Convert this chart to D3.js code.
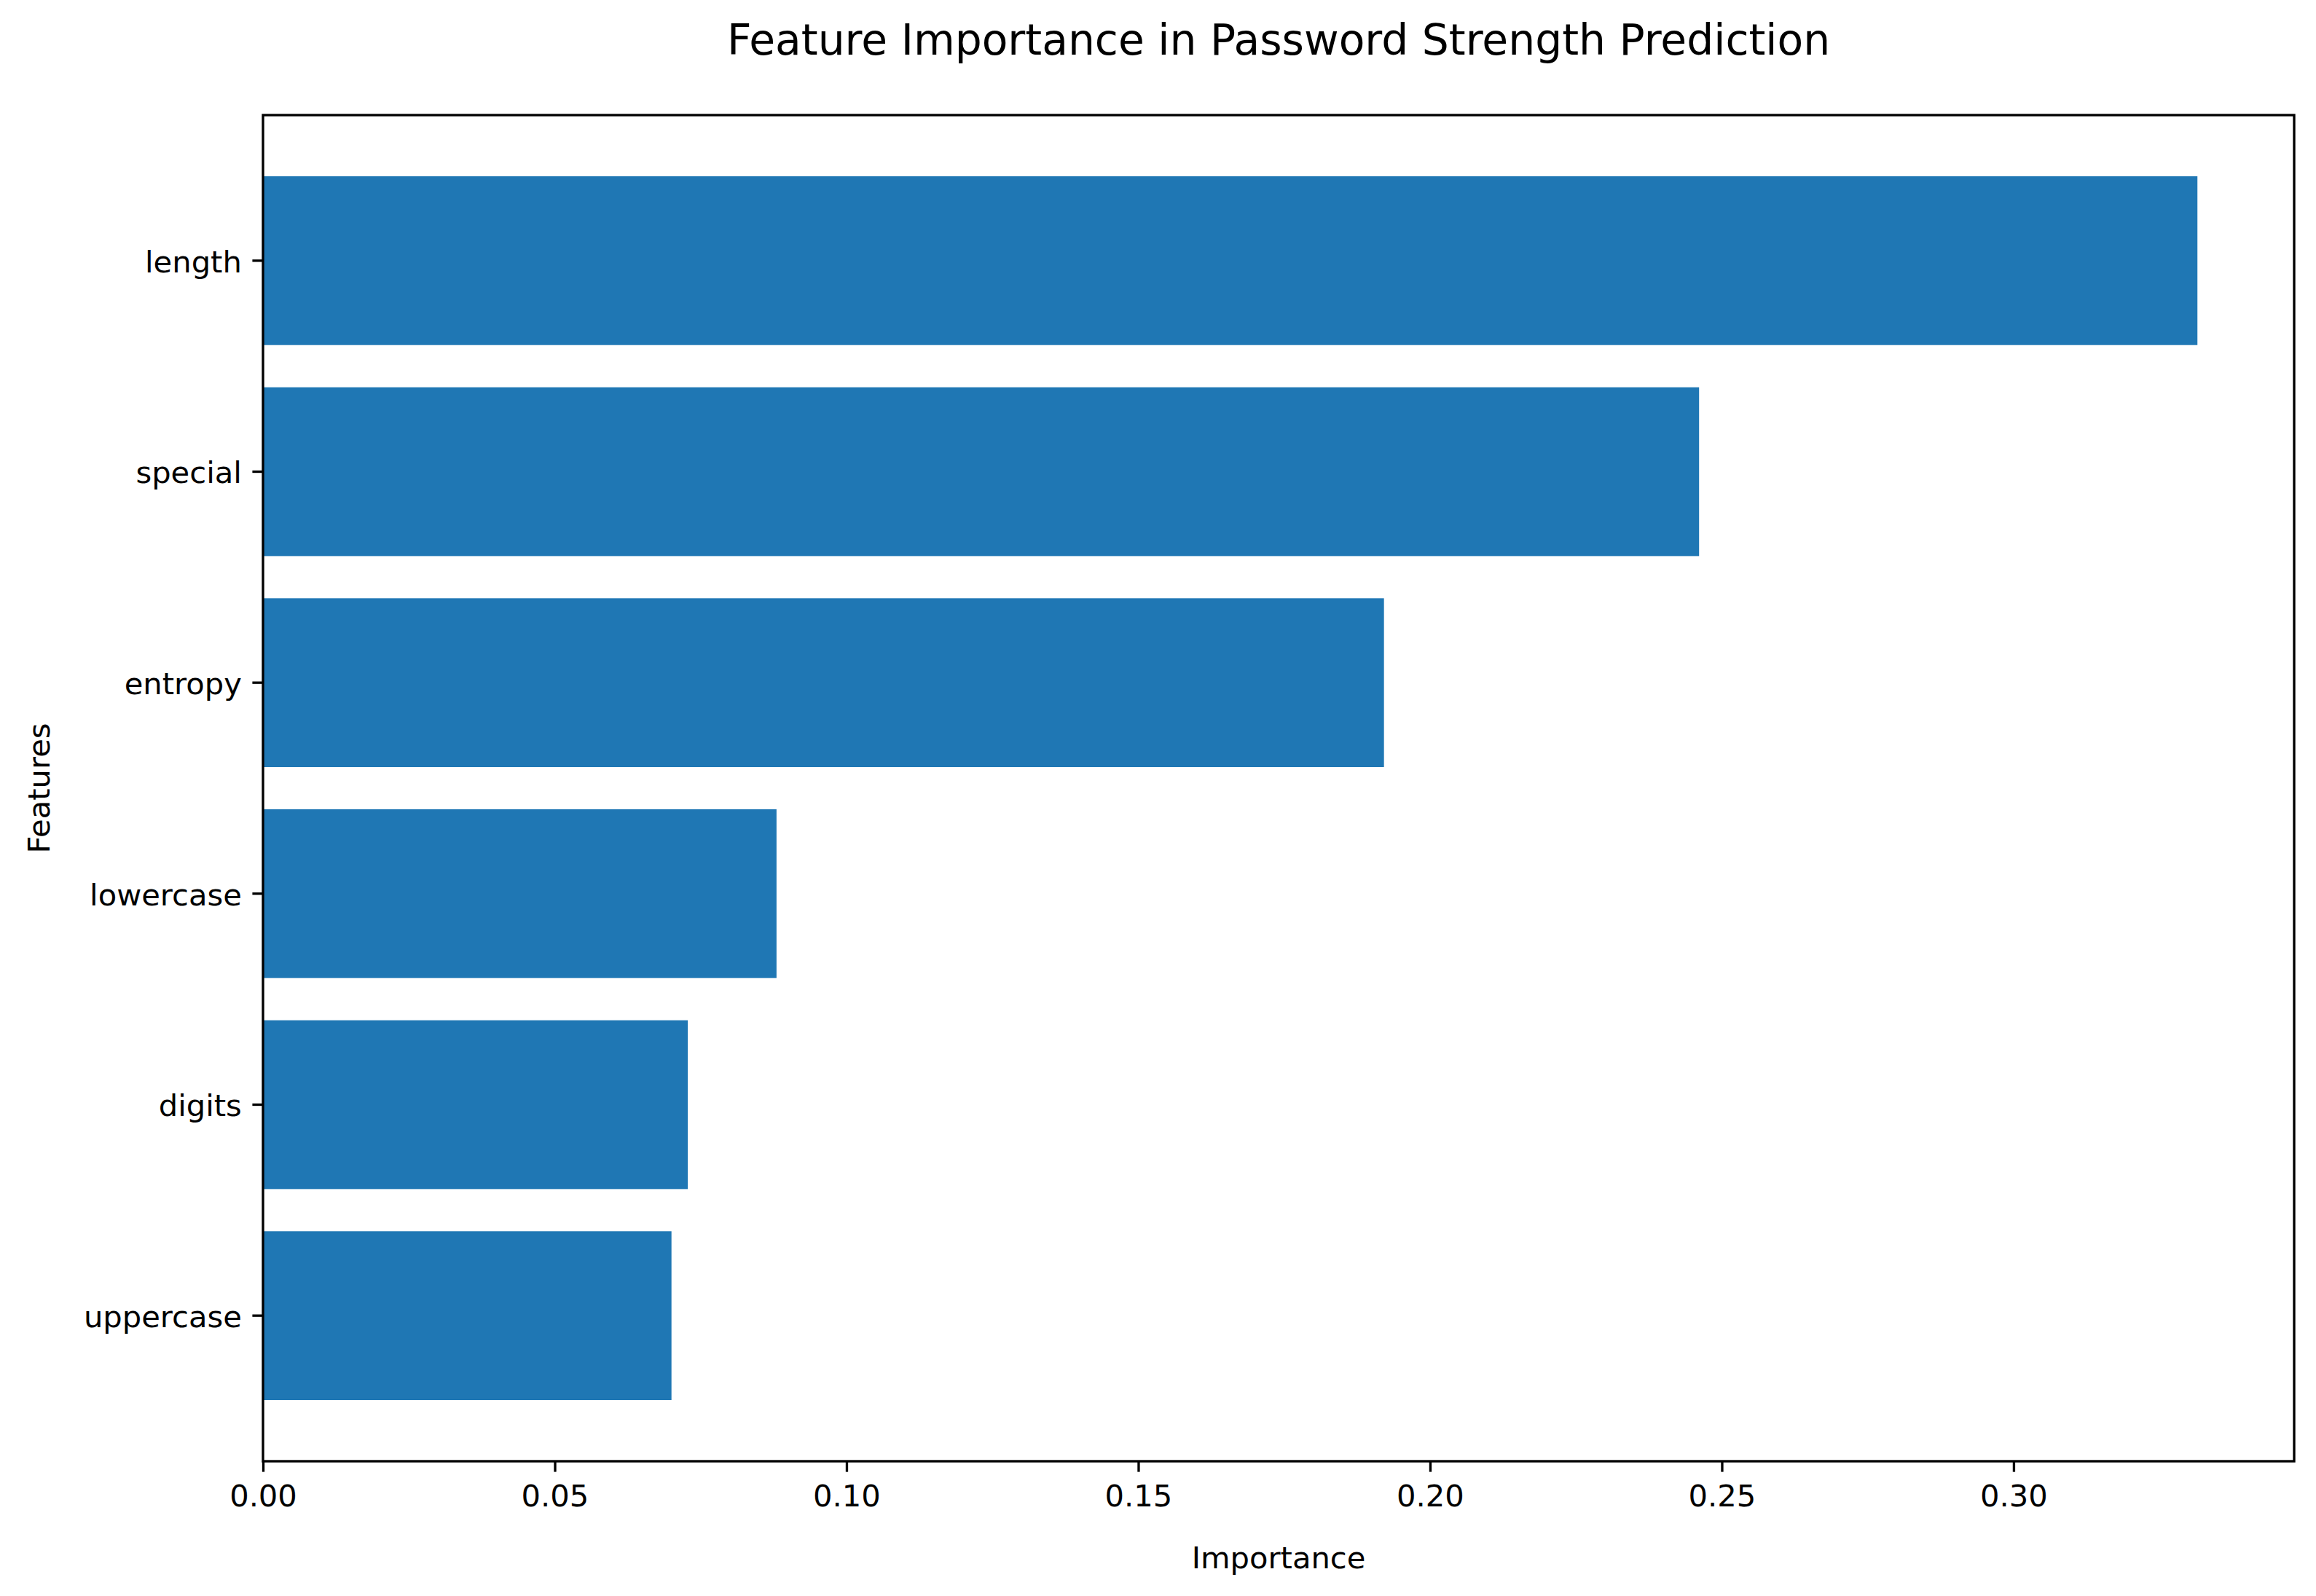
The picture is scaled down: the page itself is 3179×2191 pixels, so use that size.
<!DOCTYPE html>
<html>
<head>
<meta charset="utf-8">
<script src="https://cdn.jsdelivr.net/npm/d3@7"></script>
<style>
  body { margin: 0; background: #fff; }
  svg { display: block; font-family: "DejaVu Sans", sans-serif; }
</style>
</head>
<body>
<div id="chart"></div>
<script>
// data, listed top to bottom as drawn
var features = ['length', 'special', 'entropy', 'lowercase', 'digits', 'uppercase'];
var importance = [0.3315, 0.2461, 0.1921, 0.0880, 0.0728, 0.0700];
var xTicks = [0.00, 0.05, 0.10, 0.15, 0.20, 0.25, 0.30];

var width = 3179;
var height = 2191;
var margin = { top: 158, right: 30, bottom: 185, left: 361 };
var fontSize = 41.67;
var tickLen = 14.6;
var lineW = 3.33;

var svg = d3.select('#chart')
  .append('svg')
  .attr('width', width)
  .attr('height', height);

svg.append('rect')
  .attr('width', width)
  .attr('height', height)
  .attr('fill', '#fff');

var x = d3.scaleLinear()
  .domain([0, d3.max(importance) * 1.05]) // matplotlib style 5% margin
  .range([margin.left, width - margin.right]);

var y = d3.scaleBand()
  .domain(features)
  .range([margin.top, height - margin.bottom])
  .paddingInner(0.2)
  .paddingOuter(0.29);

// bars
svg.selectAll('rect.bar')
  .data(features)
  .enter()
  .append('rect')
  .attr('class', 'bar')
  .attr('x', x(0))
  .attr('y', function (d) { return y(d); })
  .attr('width', function (d, i) { return x(importance[i]) - x(0); })
  .attr('height', y.bandwidth())
  .attr('fill', '#1f77b4');

// axes
var xAxis = svg.append('g')
  .attr('transform', 'translate(0,' + (height - margin.bottom) + ')')
  .call(d3.axisBottom(x)
    .tickValues(xTicks)
    .tickFormat(d3.format('.2f'))
    .tickSize(tickLen)
    .tickPadding(17.8));

var yAxis = svg.append('g')
  .attr('transform', 'translate(' + margin.left + ',0)')
  .call(d3.axisLeft(y)
    .tickSize(tickLen)
    .tickPadding(14.6));

[xAxis, yAxis].forEach(function (g) {
  g.select('.domain').remove();
  g.selectAll('.tick line')
    .attr('stroke', '#000')
    .attr('stroke-width', lineW);
  g.selectAll('.tick text')
    .attr('fill', '#000')
    .style('font-size', fontSize + 'px')
    .style('font-family', '"DejaVu Sans", sans-serif');
});

yAxis.selectAll('.tick text').attr('dy', '0.38em');

// frame around the plot area
svg.append('rect')
  .attr('x', margin.left)
  .attr('y', margin.top)
  .attr('width', width - margin.right - margin.left)
  .attr('height', height - margin.bottom - margin.top)
  .attr('fill', 'none')
  .attr('stroke', '#000')
  .attr('stroke-width', lineW);

var midX = (margin.left + width - margin.right) / 2;
var midY = (margin.top + height - margin.bottom) / 2;

svg.append('text')
  .attr('x', midX)
  .attr('y', 75)
  .attr('text-anchor', 'middle')
  .style('font-size', '58.3px')
  .text('Feature Importance in Password Strength Prediction');

svg.append('text')
  .attr('x', midX)
  .attr('y', 2153)
  .attr('text-anchor', 'middle')
  .style('font-size', fontSize + 'px')
  .text('Importance');

svg.append('text')
  .attr('transform', 'translate(68,' + midY + ') rotate(-90)')
  .attr('text-anchor', 'middle')
  .style('font-size', fontSize + 'px')
  .text('Features');
</script>
</body>
</html>
